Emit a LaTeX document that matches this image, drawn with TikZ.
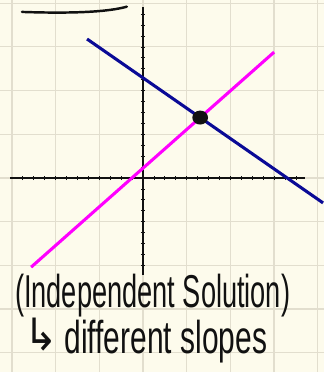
\documentclass[tikz,border=0pt]{standalone}
\usepackage{fontspec}
\setmainfont{Liberation Sans}
\newfontfamily\arrowfont{DejaVu Sans}
\usetikzlibrary{calc}
\definecolor{paper}{HTML}{FDFBEC}
\definecolor{gridline}{HTML}{E2DECE}
\definecolor{ink}{HTML}{111111}
\definecolor{lineblue}{HTML}{0A0A96}
\definecolor{linemagenta}{HTML}{FF00FF}

\begin{document}
\begin{tikzpicture}[
  axis/.style={ink, line width=1.8pt},
  tick/.style={ink, line width=0.5pt},
  graphline/.style={line width=2pt},
  hand/.style={ink, inner sep=0pt, anchor=base west, transform shape,
    font=\fontsize{30}{34}\selectfont}
]
% paper and grid
\fill[paper] (-3.272,-4.439) rectangle (4.142,4.073);
\useasboundingbox (-3.272,-4.439) rectangle (4.142,4.073);
\draw[gridline, line width=0.8pt] (-3.272,-4.439) grid (4.142,4.073);

% axes
\draw[axis] (-3.04,0) -- (3.71,0);
\draw[axis] (0,-2.22) -- (0,3.91);
\foreach \t in {-2.75,-2.5,...,3.5} \draw[tick] (\t,-0.05) -- (\t,0.05);
\foreach \t in {-2,-1.75,...,3.75} \draw[tick] (-0.05,\t) -- (0.05,\t);

% the two lines
\coordinate (b1) at (-1.28,3.18);
\coordinate (b2) at (4.12,-0.57);
\coordinate (m1) at (-2.56,-2.04);
\coordinate (m2) at (3.0,2.88);
\draw[graphline, linemagenta] (m1) -- (m2);
\draw[graphline, lineblue] (b1) -- (b2);

% solution point
\coordinate (sol) at (intersection of b1--b2 and m1--m2);
\fill[ink] (sol) ellipse (0.18 and 0.16);

% heading underline
\draw[ink, line width=1.6pt, line cap=round] (-2.77,3.80) .. controls (-1.6,3.76) and (-0.8,3.80) .. (-0.37,3.92);

% caption
\node[hand, xscale=0.59] (caption) at (-2.93,-2.96) {(Independent Solution)};
\node[hand, xscale=0.9, font=\arrowfont\fontsize{29}{34}\selectfont] (hook) at (-2.72,-3.95) {↳};
\node[hand, xscale=0.65] (slopes) at (-1.80,-4.02) {different slopes};
\end{tikzpicture}
\end{document}
